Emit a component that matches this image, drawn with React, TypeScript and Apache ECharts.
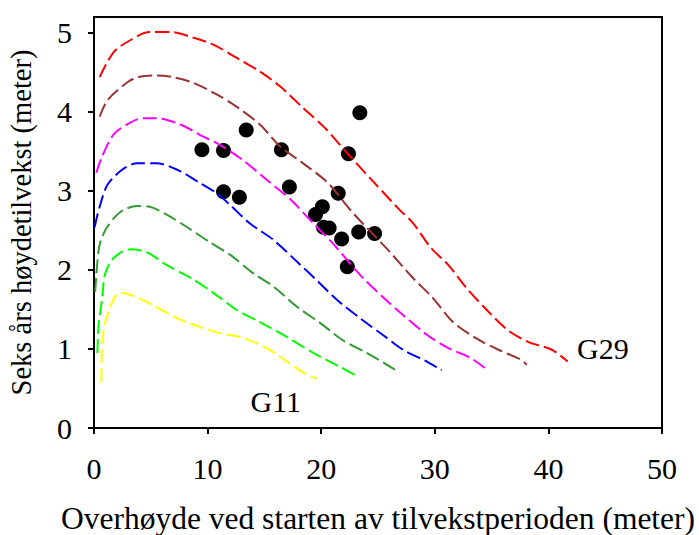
import React, { useEffect, useRef } from "react";
import * as echarts from "echarts";

const xTicks = [0, 10, 20, 30, 40, 50];
const yTicks = [0, 1, 2, 3, 4, 5];

const g29X = [0.5, 1.7, 3.0, 4.9, 6.7, 8.7, 10.5, 12.6, 14.6, 16.4, 18.4, 20.3, 22.4, 24.5, 26.9, 28.1, 29.6, 31.2, 32.8, 34.6, 36.4, 38.2, 40.3, 41.7];
const g29Y = [4.44, 4.75, 4.89, 5.01, 5.01, 4.94, 4.85, 4.68, 4.51, 4.32, 4.05, 3.80, 3.46, 3.13, 2.76, 2.59, 2.29, 2.06, 1.77, 1.49, 1.24, 1.09, 0.99, 0.84];

const g26X = [0.5, 1.2, 3.0, 3.9, 5.5, 6.9, 8.7, 10.8, 12.6, 14.6, 16.4, 18.4, 20.6, 22.8, 25.9, 28.0, 29.8, 31.6, 33.7, 35.6, 37.5, 38.1];
const g26Y = [3.94, 4.15, 4.38, 4.44, 4.46, 4.44, 4.37, 4.22, 4.06, 3.84, 3.56, 3.35, 3.10, 2.72, 2.25, 1.91, 1.65, 1.34, 1.13, 0.99, 0.87, 0.80];

const g23X = [0.2, 0.7, 1.7, 2.9, 4.3, 5.5, 7.6, 9.3, 11.1, 13.1, 15.2, 17.3, 19.3, 21.0, 23.4, 25.4, 27.2, 29.3, 31.2, 33.1, 34.4];
const g23Y = [3.23, 3.43, 3.71, 3.84, 3.92, 3.92, 3.84, 3.71, 3.58, 3.39, 3.14, 2.89, 2.59, 2.34, 1.94, 1.66, 1.43, 1.18, 1.01, 0.89, 0.76];

const g20X = [0.05, 0.5, 1.2, 2.5, 3.8, 5.5, 7.3, 9.1, 10.8, 12.0, 13.7, 15.8, 17.9, 19.6, 21.4, 23.6, 25.4, 27.2, 29.3, 30.6];
const g20Y = [2.54, 2.80, 3.08, 3.27, 3.35, 3.35, 3.27, 3.12, 2.97, 2.82, 2.59, 2.38, 2.10, 1.87, 1.62, 1.37, 1.18, 0.99, 0.84, 0.73];

const g17X = [0.1, 0.3, 0.5, 1.1, 2.3, 3.8, 4.9, 6.4, 8.2, 10.2, 12.0, 14.0, 15.8, 17.9, 19.9, 21.9, 24.0, 25.8, 26.9];
const g17Y = [1.72, 2.1, 2.32, 2.53, 2.73, 2.81, 2.80, 2.70, 2.54, 2.35, 2.19, 1.96, 1.79, 1.53, 1.33, 1.11, 0.95, 0.80, 0.70];

const g14X = [0.3, 0.4, 0.7, 1.0, 1.8, 3.2, 4.7, 6.4, 8.5, 10.5, 12.6, 14.6, 17.0, 19.3, 21.7, 23.2];
const g14Y = [0.95, 1.3, 1.62, 1.96, 2.16, 2.26, 2.22, 2.06, 1.90, 1.71, 1.49, 1.34, 1.15, 0.95, 0.77, 0.65];

const g11X = [0.65, 0.72, 1.0, 1.7, 2.3, 3.3, 4.7, 7.3, 9.3, 11.1, 13.1, 15.2, 17.0, 18.8, 19.6];
const g11Y = [0.58, 1.08, 1.34, 1.62, 1.71, 1.68, 1.59, 1.39, 1.28, 1.20, 1.14, 1.01, 0.84, 0.67, 0.63];

const obsX = [9.5, 11.4, 13.4, 16.5, 23.4, 22.4, 11.4, 12.8, 17.2, 21.5, 20.1, 19.5, 20.2, 20.7, 21.8, 23.3, 24.7, 22.3];
const obsY = [3.52, 3.51, 3.77, 3.52, 3.99, 3.47, 2.99, 2.92, 3.05, 2.97, 2.80, 2.70, 2.54, 2.53, 2.39, 2.48, 2.46, 2.04];

const labelNames = ["G29", "G11"];
const labelX = [44.8, 16.0];
const labelY = [1.0, 0.34];

const curves = [
  { name: "G29", xs: g29X, ys: g29Y, color: "#ff0000" },
  { name: "G26", xs: g26X, ys: g26Y, color: "#993333" },
  { name: "G23", xs: g23X, ys: g23Y, color: "#ff00ff" },
  { name: "G20", xs: g20X, ys: g20Y, color: "#0000ff" },
  { name: "G17", xs: g17X, ys: g17Y, color: "#339933" },
  { name: "G14", xs: g14X, ys: g14Y, color: "#00ff00" },
  { name: "G11", xs: g11X, ys: g11Y, color: "#ffff00" },
];

const FONT = "'Liberation Serif', 'Times New Roman', serif";

export default function App() {
  const ref = useRef<HTMLDivElement>(null);
  useEffect(() => {
    if (!ref.current) return;
    const chart = echarts.init(ref.current, undefined, { renderer: "svg" });
    const lineSeries = curves.map((c) => ({
      type: "line",
      name: c.name,
      data: c.xs.map((x, i) => [x, c.ys[i]]),
      showSymbol: false,
      smooth: 0.3,
      lineStyle: { color: c.color, width: 2, type: [14, 5] },
      z: 3,
    }));
    chart.setOption({
      animation: false,
      grid: {
        left: 94,
        right: 37,
        top: 17,
        bottom: 107,
        show: true,
        borderColor: "#000",
        borderWidth: 2,
        outerBoundsMode: "none",
      },
      xAxis: {
        type: "value",
        min: 0,
        max: 50,
        interval: 10,
        name: "Overhøyde ved starten av tilvekstperioden (meter)",
        nameLocation: "middle",
        nameGap: 74,
        nameTextStyle: { fontFamily: FONT, fontSize: 31.5, color: "#000" },
        axisLine: { show: true, lineStyle: { color: "#000", width: 2 } },
        axisTick: { show: true, inside: false, length: 6, lineStyle: { color: "#000", width: 2 } },
        axisLabel: { margin: 25, fontFamily: FONT, fontSize: 30, color: "#000", customValues: xTicks },
        splitLine: { show: false },
      },
      yAxis: {
        type: "value",
        min: 0,
        max: 5.2,
        interval: 1,
        name: "Seks års høydetilvekst (meter)",
        nameLocation: "middle",
        nameGap: 58,
        nameTextStyle: { fontFamily: FONT, fontSize: 28.5, color: "#000" },
        axisLine: { show: true, lineStyle: { color: "#000", width: 2 } },
        axisTick: { show: true, inside: false, length: 6, lineStyle: { color: "#000", width: 2 }, customValues: yTicks },
        axisLabel: {
          margin: 22,
          fontFamily: FONT,
          fontSize: 30,
          color: "#000",
          customValues: yTicks,
          formatter: (v: number) => (Number.isInteger(v) ? String(v) : ""),
        },
        splitLine: { show: false },
      },
      series: [
        {
          type: "scatter",
          name: "obs",
          data: obsX.map((x, i) => [x, obsY[i]]),
          symbol: "circle",
          symbolSize: 15,
          itemStyle: { color: "#000", opacity: 1 },
          z: 2,
        },
        ...lineSeries,
        {
          type: "scatter",
          name: "labels",
          data: labelX.map((x, i) => ({ value: [x, labelY[i]], name: labelNames[i] })),
          symbolSize: 0,
          silent: true,
          itemStyle: { opacity: 1 },
          label: {
            show: true,
            position: "inside",
            formatter: (p: any) => p.name,
            fontFamily: FONT,
            fontSize: 30,
            color: "#000",
            opacity: 1,
          },
          z: 4,
        },
      ],
    });
    return () => chart.dispose();
  }, []);
  return (
    <div
      ref={ref}
      style={{ position: "fixed", left: 0, top: 0, width: 699, height: 535, background: "#fff" }}
    />
  );
}
